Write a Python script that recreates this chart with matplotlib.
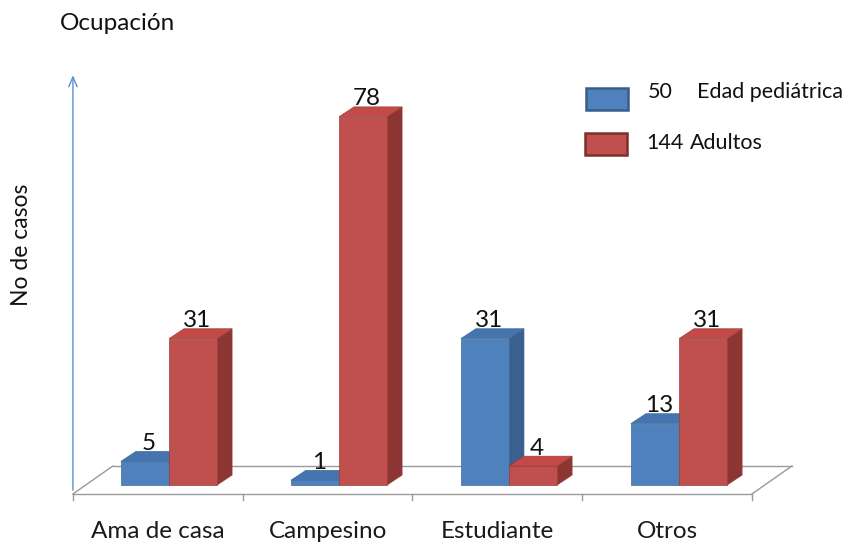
import matplotlib
matplotlib.use("Agg")
import matplotlib.pyplot as plt
from matplotlib.patches import Polygon, FancyArrowPatch, Rectangle

plt.rcParams['font.family'] = ['Lato', 'DejaVu Sans']

categories = ["Ama de casa", "Campesino", "Estudiante", "Otros"]
pediatric = [5, 1, 31, 13]
adults = [31, 78, 4, 31]
series_totals = ["50", "144"]
series_names = ["Edad pediátrica", "Adultos"]
title = "Ocupación"
ylabel = "No de casos"

BLUE = dict(front="#4F81BD", top="#4674AE", side="#39608F", edge="#3F6A9C")
RED = dict(front="#C0504D", top="#C44A48", side="#8C3533", edge="#9A3E3B")

W = 0.283            # bar width (category units)
DX, DY = 0.088, 2.1  # bar depth offset
FLOOR_FRONT_Y = -1.9
FLOOR_DX, FLOOR_DY = 0.235, 5.93
FLOOR_X0, FLOOR_X1 = -0.565, 3.429

fig = plt.figure(figsize=(8.47, 5.44), dpi=100)
ax = fig.add_axes([0, 0, 1, 1])
ax.set_xlim(-0.994, 3.988)
ax.set_ylim(-12.5, 102.75)
ax.axis("off")

# floor
fy0 = FLOOR_FRONT_Y
fy1 = FLOOR_FRONT_Y + FLOOR_DY
floor_col = "#9A9A9A"
ax.plot([FLOOR_X0, FLOOR_X1], [fy0, fy0], color=floor_col, lw=1.0, zorder=1)
ax.plot([FLOOR_X0 + FLOOR_DX, FLOOR_X1 + FLOOR_DX], [fy1, fy1], color=floor_col, lw=1.0, zorder=1)
ax.plot([FLOOR_X0, FLOOR_X0 + FLOOR_DX], [fy0, fy1], color=floor_col, lw=1.0, zorder=1)
ax.plot([FLOOR_X1, FLOOR_X1 + FLOOR_DX], [fy0, fy1], color=floor_col, lw=1.0, zorder=1)
slot = (FLOOR_X1 - FLOOR_X0) / len(categories)
for k in range(len(categories) + 1):
    xt = FLOOR_X0 + k * slot
    ax.plot([xt, xt], [fy0, fy0 - 1.3], color=floor_col, lw=1.0, zorder=1)
for k, name in enumerate(categories):
    ax.text(FLOOR_X0 + (k + 0.5) * slot, fy0 - 7.9, name, ha="center", va="center",
            fontsize=17.5, color="#1a1a1a")

# vertical axis arrow
arrow = FancyArrowPatch((FLOOR_X0, fy0 + 0.2), (FLOOR_X0, fy0 + 89.3),
                        arrowstyle="->,head_width=3,head_length=7", color="#5B8FD0",
                        lw=1.0, mutation_scale=1, zorder=1)
ax.add_patch(arrow)


def draw_bar(x_left, h, col, z):
    x_right = x_left + W
    ax.bar(x_left, h, width=W, align="edge", color=col["front"], edgecolor=col["edge"],
           linewidth=0.5, zorder=z + 1)
    side = Polygon([(x_right, 0), (x_right + DX, DY), (x_right + DX, h + DY), (x_right, h)],
                   closed=True, facecolor=col["side"], edgecolor=col["edge"], linewidth=0.5, zorder=z)
    top = Polygon([(x_left, h), (x_left + DX, h + DY), (x_right + DX, h + DY), (x_right, h)],
                  closed=True, facecolor=col["top"], edgecolor=col["edge"], linewidth=0.5, zorder=z)
    ax.add_patch(side)
    ax.add_patch(top)
    ax.text(x_left + W / 2 + DX * 0.25, h + DY - 0.5, str(h), ha="center", va="bottom",
            fontsize=17.5, color="#111111", zorder=10)


for i, (b, r) in enumerate(zip(pediatric, adults)):
    draw_bar(i - W, b, BLUE, 2)
    draw_bar(i, r, RED, 4)

# legend
fig.patches.append(Rectangle((586 / 847, 1 - 110 / 544), 42 / 847, 22 / 544,
                             transform=fig.transFigure, facecolor=BLUE["front"],
                             edgecolor="#385D8A", lw=1.8))
fig.patches.append(Rectangle((585 / 847, 1 - 155 / 544), 42 / 847, 22 / 544,
                             transform=fig.transFigure, facecolor=RED["front"],
                             edgecolor="#7E2F2D", lw=1.8))
fig.text(648 / 847, 1 - 92 / 544, series_totals[0], fontsize=15.5, va="center", ha="left", color="#111111")
fig.text(697 / 847, 1 - 92 / 544, series_names[0], fontsize=15.5, va="center", ha="left", color="#111111")
fig.text(646 / 847, 1 - 143 / 544, series_totals[1], fontsize=15.5, va="center", ha="left", color="#111111")
fig.text(690 / 847, 1 - 143 / 544, series_names[1], fontsize=15.5, va="center", ha="left", color="#111111")

fig.text(60 / 847, 1 - 24 / 544, title, fontsize=17.5, va="center", ha="left", color="#111111")
fig.text(22 / 847, 1 - 245 / 544, ylabel, fontsize=16.5, va="center", ha="center", rotation=90,
         color="#111111")

fig.savefig("out.png", dpi=100)
